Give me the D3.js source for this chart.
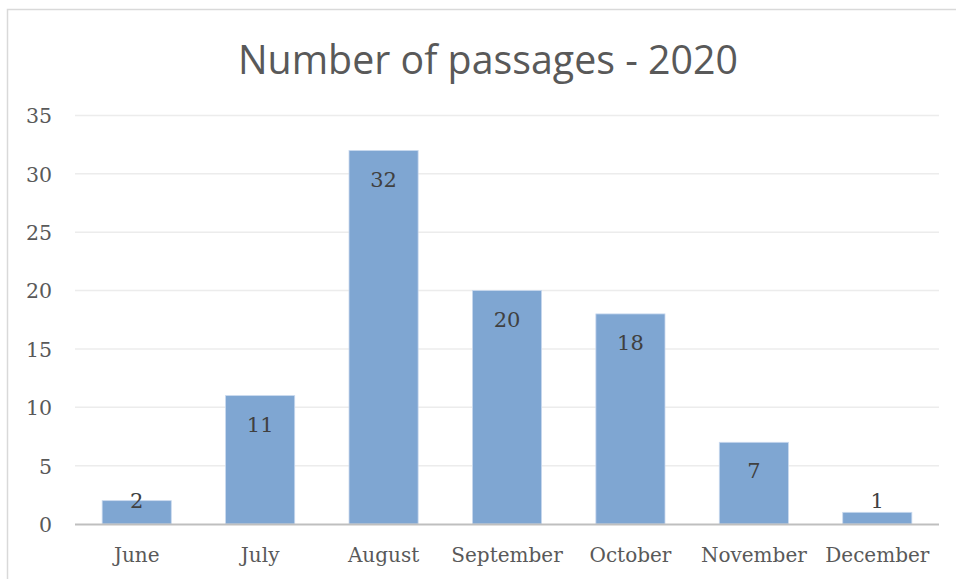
<!DOCTYPE html>
<html>
<head>
<meta charset="utf-8">
<script src="https://cdn.jsdelivr.net/npm/d3@7"></script>
<style>
  html, body { margin: 0; padding: 0; background: #fff; }
  svg { display: block; }
</style>
</head>
<body>
<svg id="chart" width="956" height="579"></svg>
<script>
const categories = ["June", "July", "August", "September", "October", "November", "December"];
const values = [2, 11, 32, 20, 18, 7, 1];
const yTicks = [0, 5, 10, 15, 20, 25, 30, 35];
const titleText = "Number of passages - 2020";

const W = 956, H = 579;
const margin = { left: 75, right: 17, top: 115.5, bottom: 55 };
const svg = d3.select("#chart");

// chart frame
svg.append("path")
  .attr("d", `M7.5,${H} L7.5,9.5 L${W},9.5`)
  .attr("fill", "none")
  .attr("stroke", "#d9d9d9")
  .attr("stroke-width", 1.5);

const x = d3.scaleBand()
  .domain(categories)
  .range([margin.left, W - margin.right])
  .paddingInner(0.44)
  .paddingOuter(0.22);

const y = d3.scaleLinear()
  .domain([0, 35])
  .range([524, margin.top]);

// gridlines
svg.append("g")
  .selectAll("line")
  .data(yTicks.filter(d => d > 0))
  .join("line")
  .attr("x1", margin.left)
  .attr("x2", W - margin.right)
  .attr("y1", d => y(d))
  .attr("y2", d => y(d))
  .attr("stroke", "#ececec")
  .attr("stroke-width", 1.5);

// y axis labels
const yAxis = d3.axisLeft(y).tickValues(yTicks).tickSize(0).tickPadding(0);
const gy = svg.append("g")
  .attr("transform", `translate(52,0)`)
  .call(yAxis);
gy.select(".domain").remove();
gy.selectAll("text")
  .attr("font-family", "'DejaVu Serif', serif")
  .attr("font-size", 20.5)
  .attr("fill", "#595959")
  .attr("dy", "0.36em");

// bars
svg.append("g")
  .selectAll("rect")
  .data(values)
  .join("rect")
  .attr("x", (d, i) => x(categories[i]))
  .attr("width", x.bandwidth())
  .attr("y", d => y(d))
  .attr("height", d => y(0) - y(d))
  .attr("fill", "#7fa6d2")
  .attr("stroke", "#c9d9ee")
  .attr("stroke-width", 0.8);

// x axis line
svg.append("line")
  .attr("x1", margin.left)
  .attr("x2", W - margin.right)
  .attr("y1", y(0) + 0.5)
  .attr("y2", y(0) + 0.5)
  .attr("stroke", "#bfbfbf")
  .attr("stroke-width", 2.2);

// x axis labels
const xAxis = d3.axisBottom(x).tickSize(0).tickPadding(0);
const gx = svg.append("g")
  .attr("transform", `translate(0,${y(0)})`)
  .call(xAxis);
gx.select(".domain").remove();
gx.selectAll("text")
  .attr("font-family", "'DejaVu Serif', serif")
  .attr("font-size", 20)
  .attr("fill", "#595959")
  .attr("dy", null)
  .attr("y", 38);

// data labels
svg.append("g")
  .selectAll("text")
  .data(values)
  .join("text")
  .attr("x", (d, i) => x(categories[i]) + x.bandwidth() / 2)
  .attr("y", d => Math.min(y(d) + 36, y(0) - 16))
  .attr("text-anchor", "middle")
  .attr("font-family", "'DejaVu Serif', serif")
  .attr("font-size", 21)
  .attr("fill", "#404040")
  .text(d => d);

// title
svg.append("text")
  .attr("x", 488)
  .attr("y", 74)
  .attr("text-anchor", "middle")
  .attr("font-family", "'Open Sans', sans-serif")
  .attr("font-size", 40)
  .attr("textLength", 500)
  .attr("lengthAdjust", "spacingAndGlyphs")
  .attr("fill", "#595959")
  .text(titleText);
</script>
</body>
</html>
